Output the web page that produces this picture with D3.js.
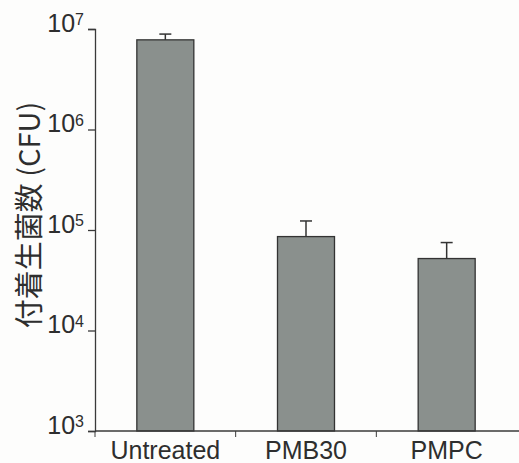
<!DOCTYPE html>
<html>
<head>
<meta charset="utf-8">
<script src="https://cdn.jsdelivr.net/npm/d3@7"></script>
<style>
  body { margin: 0; background: #fdfdfc; }
  svg { display: block; }
  text { font-family: "Liberation Sans", Arial, sans-serif; fill: #2e2e2e; }
</style>
</head>
<body>
<svg id="chart" width="519" height="463"></svg>
<script>
// adhered viable bacteria counts (log scale)
const categories = ["Untreated", "PMB30", "PMPC"];
const means = [7.8e6, 8.6e4, 5.2e4];
const errTops = [8.9e6, 1.23e5, 7.5e4];
const yTicks = [1e3, 1e4, 1e5, 1e6, 1e7];

const svg = d3.select("#chart");
const margin = { left: 95, right: 2, top: 29, bottom: 32 };
const width = 519, height = 463;

const x = d3.scaleBand()
  .domain(categories)
  .range([margin.left, width - margin.right])
  .paddingInner(0)
  .paddingOuter(0);

const y = d3.scaleLog()
  .domain([1e3, 1e7])
  .range([height - margin.bottom, margin.top]);

const barW = 57;
const axisColor = "#3a3a3a";

// bars
svg.append("g")
  .selectAll("rect")
  .data(categories)
  .join("rect")
  .attr("x", (d) => x(d) + x.bandwidth() / 2 - barW / 2)
  .attr("y", (d, i) => y(means[i]))
  .attr("width", barW)
  .attr("height", (d, i) => y(1e3) - y(means[i]))
  .attr("fill", "#8a908d")
  .attr("stroke", "#333")
  .attr("stroke-width", 1.3);

// error bars (upper only)
const err = svg.append("g").attr("stroke", "#333").attr("stroke-width", 1.5);
categories.forEach((c, i) => {
  const cx = x(c) + x.bandwidth() / 2;
  err.append("line")
    .attr("x1", cx).attr("x2", cx)
    .attr("y1", y(means[i])).attr("y2", y(errTops[i]));
  err.append("line")
    .attr("x1", cx - 6).attr("x2", cx + 6)
    .attr("y1", y(errTops[i])).attr("y2", y(errTops[i]));
});

// y axis
const yAxis = svg.append("g")
  .attr("transform", `translate(${margin.left},0)`)
  .call(d3.axisLeft(y).tickValues(yTicks).tickSize(7).tickFormat(""));
yAxis.select(".domain").attr("stroke", axisColor).attr("stroke-width", 1.3);
yAxis.selectAll(".tick line").attr("stroke", axisColor).attr("stroke-width", 1.3);

const yl = yAxis.selectAll(".tick").append("text")
  .attr("x", -11)
  .attr("y", 2)
  .attr("text-anchor", "end")
  .style("font-size", "25px");
yl.append("tspan").text("10");
yl.append("tspan")
  .attr("dy", "-0.4em")
  .style("font-size", "16px")
  .text((d) => Math.round(Math.log10(d)));

// x axis
const xAxis = svg.append("g")
  .attr("transform", `translate(0,${height - margin.bottom})`);
xAxis.append("line")
  .attr("x1", margin.left).attr("x2", width)
  .attr("stroke", axisColor).attr("stroke-width", 1.3);
xAxis.selectAll("line.sep")
  .data(categories.slice(1))
  .join("line")
  .attr("class", "sep")
  .attr("x1", (d) => x(d)).attr("x2", (d) => x(d))
  .attr("y1", 0).attr("y2", 6)
  .attr("stroke", axisColor).attr("stroke-width", 1);
xAxis.append("line")
  .attr("x1", margin.left).attr("x2", margin.left)
  .attr("y1", 0).attr("y2", 6)
  .attr("stroke", axisColor).attr("stroke-width", 1);
xAxis.selectAll("text")
  .data(categories)
  .join("text")
  .attr("x", (d) => x(d) + x.bandwidth() / 2)
  .attr("y", 28)
  .attr("text-anchor", "middle")
  .style("font-size", "25px")
  .text((d) => d);

// y label
svg.append("text")
  .attr("transform", "translate(40,215) rotate(-90)")
  .attr("text-anchor", "middle")
  .style("font-size", "29px")
  .style("font-family", "'Noto Sans CJK JP', 'Liberation Sans', sans-serif")
  .text("付着生菌数 (CFU)");
</script>
</body>
</html>
